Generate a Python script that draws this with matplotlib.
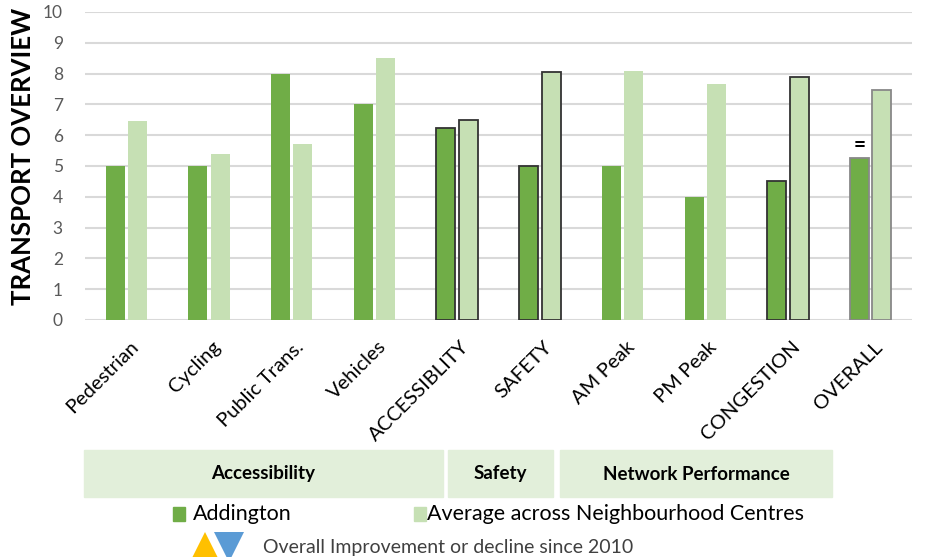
import matplotlib.pyplot as plt
from matplotlib.patches import Rectangle
from matplotlib.lines import Line2D
import matplotlib.transforms as mtransforms
import numpy as np

plt.rcParams['font.family'] = ['Lato', 'DejaVu Sans']

# data
categories = ['Pedestrian', 'Cycling', 'Public Trans.', 'Vehicles', 'ACCESSIBLITY',
              'SAFETY', 'AM Peak', 'PM Peak', 'CONGESTION', 'OVERALL']
addington = [5, 5, 8, 7, 6.25, 5, 5, 4, 4.5, 5.25]
average = [6.45, 5.4, 5.7, 8.5, 6.5, 8.05, 8.1, 7.65, 7.88, 7.48]
edge_cols = [None, None, None, None, '#333333', '#333333', None, None, '#333333', '#888888']
groups = ['Accessibility', 'Safety', 'Network Performance']

dark = '#70ad47'
light = '#c6e0b4'

fig = plt.figure(figsize=(9.32, 5.57), dpi=100)
ax = fig.add_axes([85/932, 1-320/557, 827/932, 308/557])

x = np.arange(len(categories))
w = 0.23
for i in range(len(categories)):
    ec = edge_cols[i]
    lw = 1.3 if ec else 0
    ax.bar(x[i]-0.135, addington[i], w, color=dark, edgecolor=ec if ec else dark, linewidth=lw, zorder=3)
    ax.bar(x[i]+0.135, average[i], w, color=light, edgecolor=ec if ec else light, linewidth=lw, zorder=3)

ax.text(x[-1]-0.135, addington[-1]+0.1, '=', ha='center', va='bottom', fontsize=15, fontweight='bold')

ax.set_xlim(-0.5, len(categories)-0.5)
ax.set_ylim(0, 10)
ax.set_yticks(range(0, 11))
ax.yaxis.grid(True, color='#d9d9d9', linewidth=1.5, zorder=0)
ax.set_axisbelow(True)
for s in ax.spines.values():
    s.set_visible(False)
ax.tick_params(axis='y', length=0, labelsize=12.5, labelcolor='#595959', pad=16)
ax.tick_params(axis='x', length=0, pad=13)
ax.set_xticks(x)
ax.set_xticklabels(categories, rotation=45, ha='right', rotation_mode='anchor', fontsize=14.5)
shift = mtransforms.ScaledTranslation(3/100, 0, fig.dpi_scale_trans)
for lab in ax.get_xticklabels():
    lab.set_transform(lab.get_transform() + shift)
ax.set_ylabel('TRANSPORT OVERVIEW', fontsize=18.5, fontweight='bold')
ax.yaxis.set_label_coords(-0.06, 0.53)

# group boxes under the axis labels
boxes = [(84, 443), (448, 553), (560, 832)]
for (x0, x1), name in zip(boxes, groups):
    fig.patches.append(Rectangle((x0/932, 1-497/557), (x1-x0)/932, 47/557,
                                 transform=fig.transFigure, color='#e2efda', zorder=0))
    fig.text((x0+x1)/2/932, 1-474/557, name, ha='center', va='center',
             fontsize=13.5, fontweight='bold')

# legend
fig.patches.append(Rectangle((173/932, 1-521/557), 12/932, 14/557, transform=fig.transFigure, color=dark))
fig.text(193/932, 1-514/557, 'Addington', va='center', fontsize=15.5)
fig.patches.append(Rectangle((414/932, 1-521/557), 12/932, 14/557, transform=fig.transFigure, color=light))
fig.text(427/932, 1-514/557, 'Average across Neighbourhood Centres', va='center', fontsize=15.5)

# improvement / decline key (cut off at the bottom edge like the original)
fig.lines.append(Line2D([205/932], [1-547/557], marker='^', markersize=21, color='#ffc000',
                        markeredgewidth=0, linestyle='none', transform=fig.transFigure))
fig.lines.append(Line2D([229/932], [1-547/557], marker='v', markersize=21, color='#5b9bd5',
                        markeredgewidth=0, linestyle='none', transform=fig.transFigure))
fig.text(263/932, 1-548/557, 'Overall Improvement or decline since 2010', va='center',
         fontsize=14, color='#404040')

fig.savefig('out.png', dpi=100)
